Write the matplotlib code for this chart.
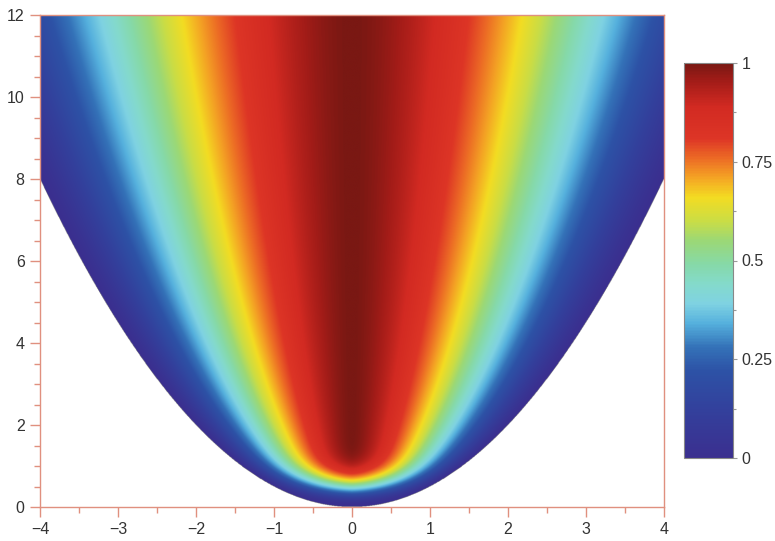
import numpy as np
import matplotlib
matplotlib.use("Agg")
import matplotlib.pyplot as plt
from matplotlib.colors import LinearSegmentedColormap
from matplotlib.ticker import MultipleLocator, FixedLocator

plt.rcParams['font.family'] = ['Liberation Sans', 'DejaVu Sans']

# domain and field shape
X_RANGE = [-4, 4]
Y_RANGE = [0, 12]
PARABOLA_K = 0.5        # field lives above y = k * x^2
PROFILE_P = 0.8         # f = (1 - u**p)**q, u = k x^2 / y
PROFILE_Q = 1.3
BOTTOM_SCALE = 0.63     # rise of the field near the vertex

x_ticks = [-4, -3, -2, -1, 0, 1, 2, 3, 4]
y_ticks = [0, 2, 4, 6, 8, 10, 12]
cbar_ticks = [0, 0.25, 0.5, 0.75, 1]
cbar_labels = ['0', '0.25', '0.5', '0.75', '1']

cmap_stops = [0.0, 0.12, 0.22, 0.28, 0.34, 0.39, 0.44, 0.49, 0.55, 0.60,
              0.66, 0.71, 0.76, 0.81, 0.89, 0.955, 1.0]
cmap_colors = ['#3b2f8f', '#33409c', '#2d52a6', '#3472b8', '#55b0dd', '#7fd2e2',
               '#84dacb', '#86d9a8', '#9bd876', '#cadd45', '#f3dc22', '#f4a424',
               '#ec6a25', '#dd3526', '#d22a22', '#a31c18', '#7a1813']

cmap = LinearSegmentedColormap.from_list('heat', list(zip(cmap_stops, cmap_colors)))

xs = np.linspace(X_RANGE[0], X_RANGE[1], 1200)
ys = np.linspace(Y_RANGE[0], Y_RANGE[1], 1400)
X, Y = np.meshgrid(xs, ys)
inside = Y >= PARABOLA_K * X ** 2
u = np.where(Y > 0, PARABOLA_K * X ** 2 / np.maximum(Y, 1e-9), 1.0)
u = np.clip(u, 0, 1)
F = (1 - u ** PROFILE_P) ** PROFILE_Q * (1 - np.exp(-(Y / BOTTOM_SCALE) ** 2))
F = np.ma.masked_where(~inside, F)

fig = plt.figure(figsize=(7.75, 5.41), dpi=100)
ax = fig.add_axes([40 / 775, 34 / 541, 624 / 775, 492 / 541])
im = ax.imshow(F, extent=[X_RANGE[0], X_RANGE[1], Y_RANGE[0], Y_RANGE[1]],
               origin='lower', aspect='auto', cmap=cmap, vmin=0, vmax=1,
               interpolation='bilinear')
ax.set_xlim(X_RANGE)
ax.set_ylim(Y_RANGE)

axis_col = '#e0907f'
for s in ax.spines.values():
    s.set_color(axis_col)
    s.set_linewidth(1.0)
ax.set_xticks(x_ticks)
ax.set_xticklabels([str(v).replace('-', '\u2212') for v in x_ticks])
ax.set_yticks(y_ticks)
ax.xaxis.set_minor_locator(MultipleLocator(0.5))
ax.yaxis.set_minor_locator(MultipleLocator(0.5))
ax.tick_params(which='major', direction='out', length=7, width=1, color=axis_col,
               labelsize=11.5, labelcolor='#333333', pad=4)
ax.tick_params(which='minor', direction='out', length=4, width=1, color=axis_col)

cax = fig.add_axes([684 / 775, 83 / 541, 49 / 775, 395 / 541])
cb = fig.colorbar(im, cax=cax)
cb.set_ticks(cbar_ticks)
cb.set_ticklabels(cbar_labels)
cb.ax.yaxis.set_minor_locator(FixedLocator([0.125, 0.375, 0.625, 0.875]))
cb.outline.set_edgecolor('#888888')
cb.outline.set_linewidth(0.8)
cb.ax.tick_params(which='major', length=3, width=0.8, color='#999999',
                  labelsize=11.5, labelcolor='#333333', pad=3)
cb.ax.tick_params(which='minor', length=2, width=0.8, color='#999999')

fig.savefig('out.png', dpi=100)
